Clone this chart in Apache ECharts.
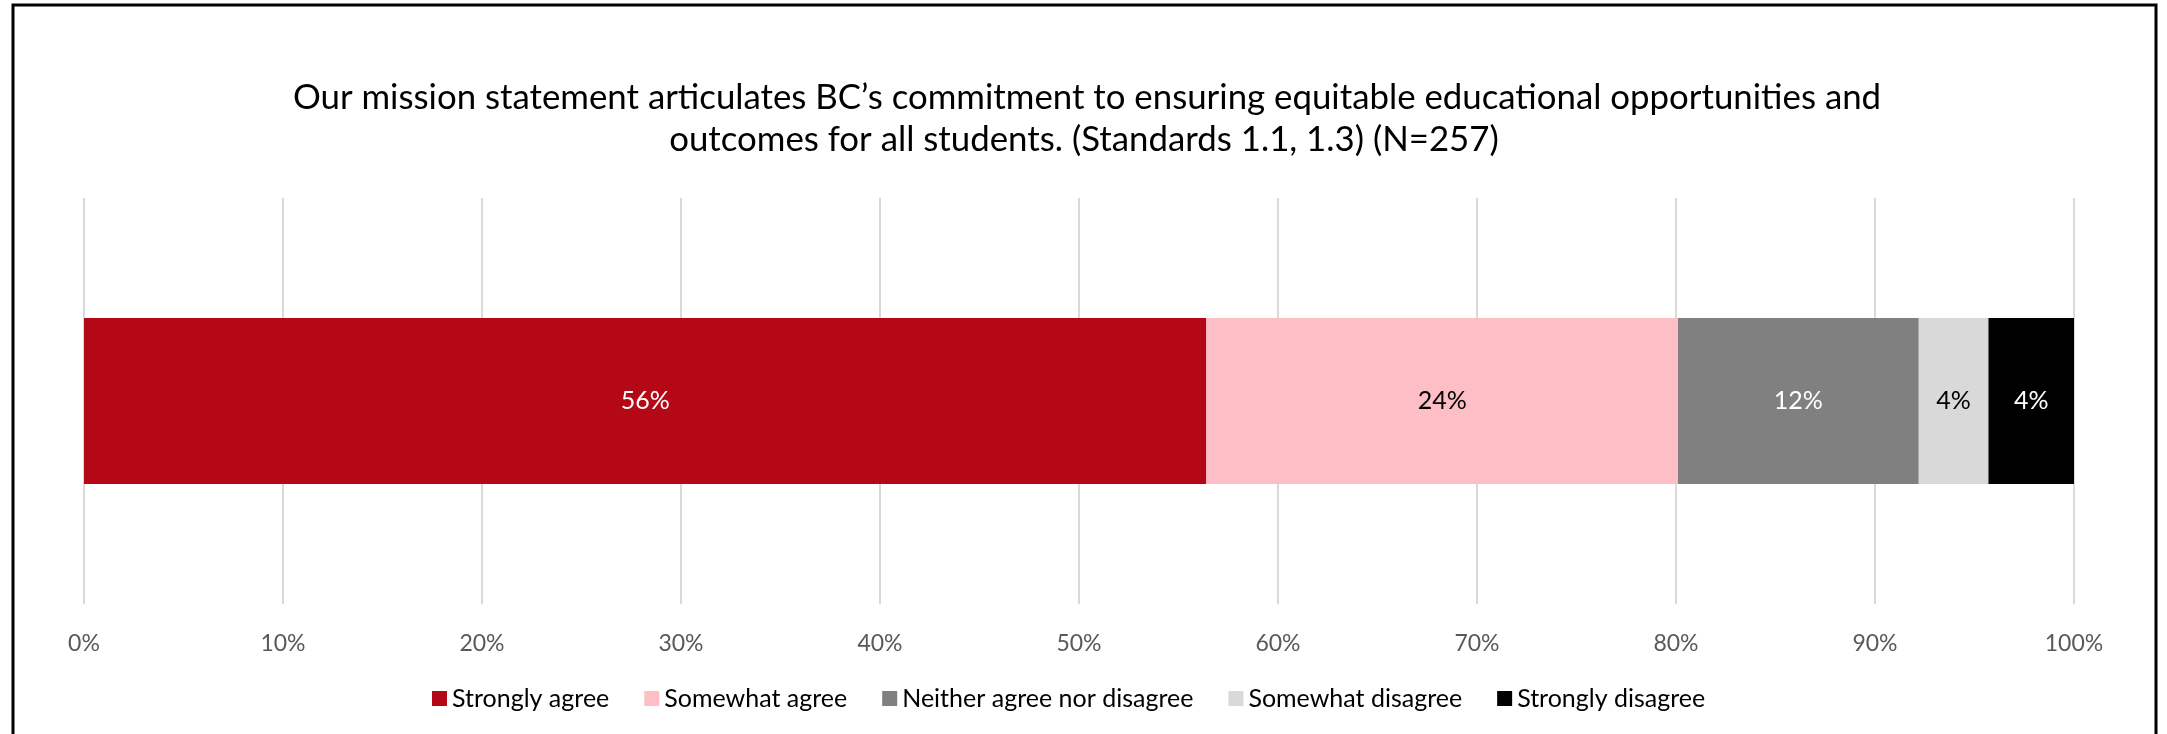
<!DOCTYPE html>
<html>
<head>
<meta charset="utf-8">
<script src="https://cdn.jsdelivr.net/npm/echarts@6/dist/echarts.min.js"></script>
<style>
html,body{margin:0;padding:0;background:#fff;}
#chart{width:2167px;height:734px;}
</style>
</head>
<body>
<div id="chart"></div>
<script>
var categories = ['Q1'];
var seriesNames = ['Strongly agree', 'Somewhat agree', 'Neither agree nor disagree', 'Somewhat disagree', 'Strongly disagree'];
var seriesValues = [[56.4], [23.7], [12.1], [3.5], [4.3]];
var seriesColors = ['#b40817', '#fdbec6', '#808080', '#d9d9d9', '#000000'];
var labelColors = ['#ffffff', '#000000', '#ffffff', '#000000', '#ffffff'];
var titleLines = ['Our mission statement articulates BC\u2019s commitment to ensuring equitable educational opportunities and',
                  'outcomes for all students. (Standards 1.1, 1.3) (N=257)'];

var FONT = 'Lato';
var chart = echarts.init(document.getElementById('chart'), null, {renderer: 'canvas'});
var series = seriesNames.map(function (name, i) {
  return {
    name: name,
    type: 'bar',
    stack: 'total',
    barWidth: 166,
    data: seriesValues[i],
    itemStyle: {color: seriesColors[i]},
    label: {
      show: true,
      position: 'inside',
      color: labelColors[i],
      fontFamily: FONT,
      fontSize: 25,
      formatter: function (p) { return Math.round(p.value) + '%'; }
    }
  };
});

var titleStyle = {fontFamily: FONT, fontSize: 34.8, fontWeight: 'normal', color: '#000'};
chart.setOption({
  backgroundColor: '#ffffff',
  animation: false,
  title: [
    {text: titleLines[0], left: 1087, textAlign: 'center', top: 80, padding: 0, textStyle: titleStyle},
    {text: titleLines[1], left: 1084, textAlign: 'center', top: 122, padding: 0, textStyle: titleStyle}
  ],
  legend: {
    bottom: 18,
    left: 427,
    itemWidth: 15,
    itemHeight: 15,
    itemGap: 35,
    icon: 'rect',
    textStyle: {fontFamily: FONT, fontSize: 25, color: '#000'},
    data: seriesNames
  },
  grid: {left: 84, right: 93, top: 198, bottom: 130, containLabel: false},
  xAxis: {
    type: 'value',
    min: 0,
    max: 100,
    interval: 10,
    axisLine: {show: false},
    axisTick: {show: false},
    splitLine: {show: true, lineStyle: {color: '#d9d9d9', width: 2}},
    axisLabel: {formatter: '{value}%', color: '#595959', fontFamily: FONT, fontSize: 23, margin: 28}
  },
  yAxis: {
    type: 'category',
    data: categories,
    axisLine: {show: false},
    axisTick: {show: false},
    axisLabel: {show: false}
  },
  series: series,
  graphic: [{
    type: 'rect',
    shape: {x: 13, y: 5, width: 2143, height: 800},
    style: {fill: 'none', stroke: '#000', lineWidth: 3},
    silent: true
  }]
});
</script>
</body>
</html>
